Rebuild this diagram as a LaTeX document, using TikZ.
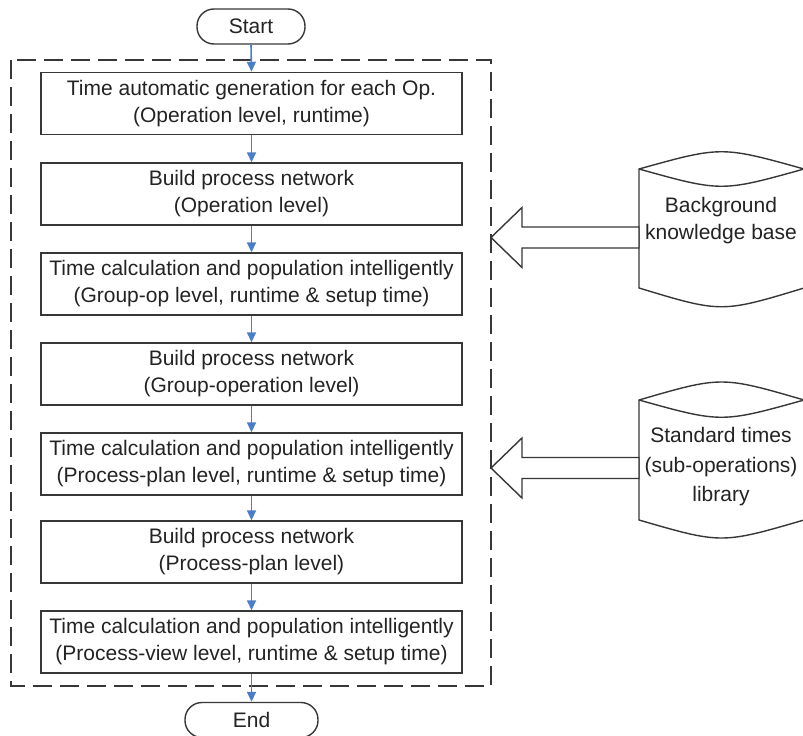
\documentclass[tikz,border=0pt]{standalone}
\usepackage{fontspec}
\setmainfont{Liberation Sans}
\usetikzlibrary{arrows.meta}
\definecolor{flowblue}{RGB}{74,126,200}
\definecolor{edge}{RGB}{55,55,55}
\definecolor{ink}{RGB}{35,35,35}
\begin{document}
\begin{tikzpicture}[x=1pt,y=-1pt,
  every node/.style={font=\fontsize{21}{27}\selectfont, text=ink},
  stepbox/.style={draw=edge, line width=1.4pt, minimum width=421pt, minimum height=62pt,
    inner sep=0pt, align=center},
  terminal/.style={draw=edge, line width=1.4pt, rounded corners=17pt, minimum height=35pt,
    inner sep=0pt},
  flow/.style={draw=flowblue, line width=1.6pt, -{Triangle[width=9pt,length=10pt]}},
  frame/.style={draw=edge, line width=1.6pt, dash pattern=on 19pt off 8pt},
  store/.style={draw=edge, line width=1.4pt, fill=white},
  bigarrow/.style={draw=edge, line width=1.4pt, fill=white, line join=miter}]
\useasboundingbox (0,0) rectangle (803,736);

% dashed frame around the steps
\draw[frame] (11,60) rectangle (491,686);

% terminals
\node[terminal, minimum width=108pt] (start) at (251,26.5) {Start};
\node[terminal, minimum width=133pt] (end) at (251.5,720) {End};

% process steps
\node[stepbox] (s1) at (251.5,103.5) {Time automatic generation for each Op.\\(Operation level, runtime)};
\node[stepbox] (s2) at (251.5,194) {Build process network\\(Operation level)};
\node[stepbox] (s3) at (251.5,284) {Time calculation and population intelligently\\(Group-op level, runtime \& setup time)};
\node[stepbox] (s4) at (251.5,374) {Build process network\\(Group-operation level)};
\node[stepbox] (s5) at (251.5,464) {Time calculation and population intelligently\\(Process-plan level, runtime \& setup time)};
\node[stepbox] (s6) at (251.5,552) {Build process network\\(Process-plan level)};
\node[stepbox] (s7) at (251.5,642) {Time calculation and population intelligently\\(Process-view level, runtime \& setup time)};

% flow connectors
\draw[flow] (start.south) -- (s1.north);
\draw[flow] (s1.south) -- (s2.north);
\draw[flow] (s2.south) -- (s3.north);
\draw[flow] (s3.south) -- (s4.north);
\draw[flow] (s4.south) -- (s5.north);
\draw[flow] (s5.south) -- (s6.north);
\draw[flow] (s6.south) -- (s7.north);
\draw[flow] (s7.south) -- (end.north);

% data stores (cylinders)
\draw[store] (639,169) .. controls (721.5,146) .. (804,169) -- (804,288)
  .. controls (721.5,313) .. (639,288) -- cycle;
\draw[store] (639,169) .. controls (721.5,192) .. (804,169);
\node[align=center] (kb) at (721,221) {Background\\knowledge base};

\draw[store] (639,400) .. controls (721.5,376) .. (804,400) -- (804,520)
  .. controls (721.5,544) .. (639,520) -- cycle;
\draw[store] (639,400) .. controls (721.5,423) .. (804,400);
\node[align=center, font=\fontsize{21}{29.5}\selectfont] (lib) at (721,467) {Standard times\\(sub-operations)\\library};

% block arrows feeding the framed procedure
\draw[bigarrow] (491,237.5) -- (522,207.5) -- (522,227) -- (639,227) -- (639,248)
  -- (522,248) -- (522,267.5) -- cycle;
\draw[bigarrow] (491,468) -- (522,438) -- (522,457.5) -- (639,457.5) -- (639,478.5)
  -- (522,478.5) -- (522,498) -- cycle;
\end{tikzpicture}
\end{document}
